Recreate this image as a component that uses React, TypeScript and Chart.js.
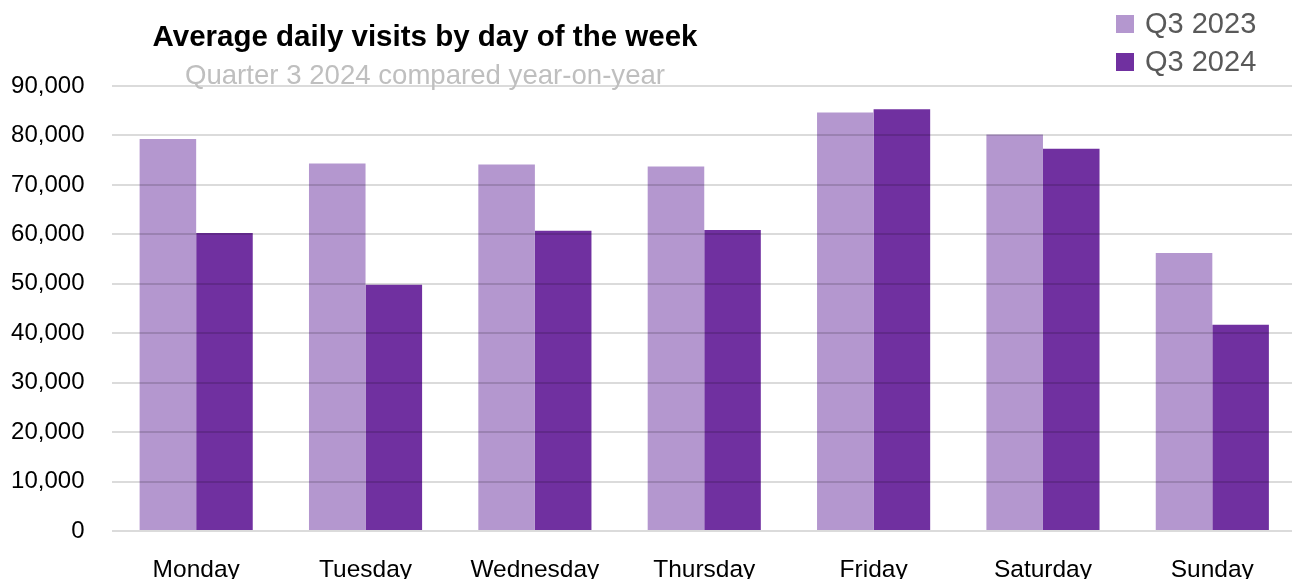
import React, { useEffect, useRef } from "react";
import { Chart, registerables } from "chart.js";

Chart.register(...registerables);

const days = ["Monday", "Tuesday", "Wednesday", "Thursday", "Friday", "Saturday", "Sunday"];
const q3_2023 = [79300, 74350, 74100, 73700, 84650, 80200, 56200];
const q3_2024 = [60250, 49800, 60700, 60900, 85300, 77300, 41700];
const seriesNames = ["Q3 2023", "Q3 2024"];
const titleText = "Average daily visits by day of the week";
const subtitleText = "Quarter 3 2024 compared year-on-year";

const LIGHT = "#b497cf";
const DARK = "#7030a0";
const FONT = "'Liberation Sans', Arial, sans-serif";

const overlayPlugin = {
  id: "overlayText",
  afterDraw(chart: any) {
    const ctx = chart.ctx;
    ctx.save();
    // title
    ctx.textAlign = "center";
    ctx.textBaseline = "alphabetic";
    ctx.fillStyle = "#000000";
    ctx.font = "bold 29.5px " + FONT;
    ctx.fillText(titleText, 425, 46);
    ctx.fillStyle = "#bfbfbf";
    ctx.font = "27.6px " + FONT;
    ctx.fillText(subtitleText, 425, 84);
    // legend
    const colors = [LIGHT, DARK];
    ctx.textAlign = "left";
    ctx.textBaseline = "middle";
    ctx.font = "29px " + FONT;
    seriesNames.forEach((name, i) => {
      const cy = 24 + i * 38;
      ctx.fillStyle = colors[i];
      ctx.fillRect(1116, cy - 9, 18, 18);
      ctx.fillStyle = "#595959";
      ctx.fillText(name, 1145, cy + 1);
    });
    ctx.restore();
  },
};

export default function App() {
  const ref = useRef<HTMLCanvasElement>(null);
  useEffect(() => {
    if (!ref.current) return;
    const chart = new Chart(ref.current, {
      type: "bar",
      data: {
        labels: days,
        datasets: [
          {
            label: seriesNames[0],
            data: q3_2023,
            backgroundColor: LIGHT,
            borderWidth: 0,
            categoryPercentage: 0.668,
            barPercentage: 1,
          },
          {
            label: seriesNames[1],
            data: q3_2024,
            backgroundColor: DARK,
            borderWidth: 0,
            categoryPercentage: 0.668,
            barPercentage: 1,
          },
        ],
      },
      options: {
        animation: false,
        responsive: false,
        maintainAspectRatio: false,
        layout: { padding: { top: 86, left: 0, right: 0, bottom: 0 } },
        plugins: {
          legend: { display: false },
          title: { display: false },
          tooltip: { enabled: false },
        },
        scales: {
          x: {
            grid: { display: false, drawTicks: false },
            border: { display: false },
            ticks: {
              color: "#000000",
              font: { family: FONT, size: 24.5 },
              padding: 25,
              maxRotation: 0,
              autoSkip: false,
            },
            afterFit: (s: any) => {
              s.height = 48;
            },
          },
          y: {
            min: 0,
            max: 90000,
            grid: {
              color: "rgba(0,0,0,0.14)",
              lineWidth: 2,
              drawTicks: false,
              z: 1,
            },
            border: { display: false },
            ticks: {
              stepSize: 10000,
              color: "#000000",
              font: { family: FONT, size: 24 },
              padding: 27,
              callback: (v: any) => Number(v).toLocaleString("en-US"),
            },
            afterFit: (s: any) => {
              s.width = 111.5;
            },
          },
        },
      },
      plugins: [overlayPlugin],
    });
    return () => chart.destroy();
  }, []);
  return (
    <div
      style={{
        position: "fixed",
        left: 0,
        top: 0,
        width: 1292,
        height: 579,
        overflow: "hidden",
        background: "#ffffff",
      }}
    >
      <canvas ref={ref} width={1297} height={579} style={{ display: "block" }} />
    </div>
  );
}
